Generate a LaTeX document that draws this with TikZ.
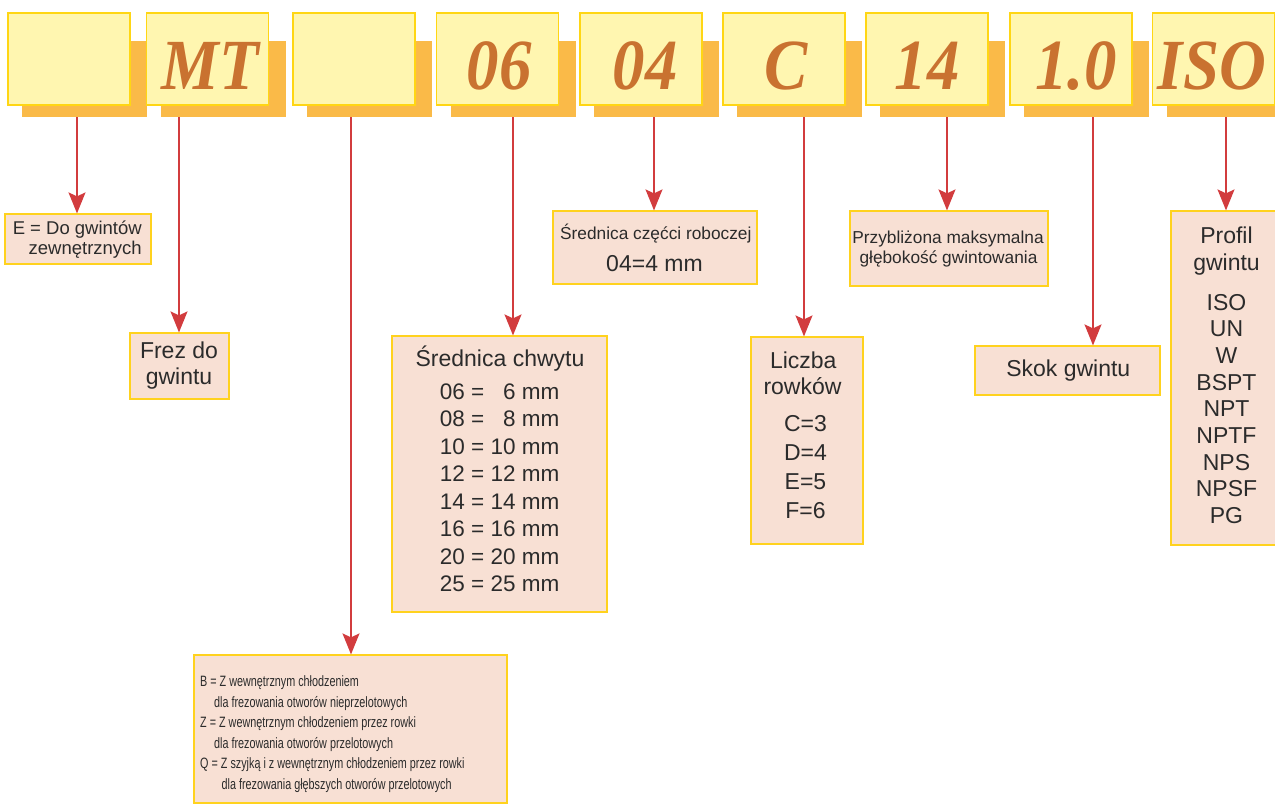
\documentclass[tikz,border=0pt]{standalone}
\usepackage{fontspec}
\setmainfont{Liberation Sans}
\newfontfamily\codefont[FakeStretch=0.9]{Liberation Serif}
\newfontfamily\narrowfont[FakeStretch=0.72]{Liberation Sans}
\usetikzlibrary{arrows.meta}
\newcommand\setfs[1]{\fontsize{#1}{#1}\selectfont}

\definecolor{topfill}{RGB}{255,246,176}
\definecolor{topedge}{RGB}{255,214,20}
\definecolor{shadowc}{RGB}{250,186,72}
\definecolor{codec}{RGB}{201,114,48}
\definecolor{boxfill}{RGB}{248,224,212}
\definecolor{boxedge}{RGB}{255,210,30}
\definecolor{arrowc}{RGB}{210,60,62}
\definecolor{textc}{RGB}{43,43,43}

\tikzset{
  topbox/.style={draw=topedge, fill=topfill, line width=1.2pt,
    minimum width=122pt, minimum height=92pt, inner sep=0pt},
  shadowbox/.style={fill=shadowc, minimum width=125pt, minimum height=76pt, inner sep=0pt},
  code/.style={text=codec, font=\codefont\bfseries\itshape\setfs{72}, anchor=base, inner sep=0pt},
  infobox/.style={draw=boxedge, fill=boxfill, line width=1.2pt, inner sep=0pt},
  arr/.style={draw=arrowc, line width=1.5pt, -{Stealth[length=21pt,width=17pt,inset=4pt]}},
  txt/.style={text=textc, inner sep=0pt, anchor=base},
  big/.style={txt, font=\setfs{23}},
  small/.style={txt, font=\setfs{17.3}},
  narrow/.style={txt, anchor=base west, font=\narrowfont\setfs{15}},
}

\begin{document}
\begin{tikzpicture}[x=1pt,y=-1pt]
\useasboundingbox (0,0) rectangle (1275,804);

% code boxes with their shadows
\foreach \i/\l in {1/8,2/146.7,3/293,4/436.7,5/580,6/723,7/866,8/1010,9/1152.7}{
  \node[shadowbox] (s\i) at (\l+76.5,79) {};
  \node[topbox] (b\i) at (\l+61,59) {};
}
\node[code] (c2) at (210,89) {MT};
\node[code] (c4) at (499,89) {06};
\node[code] (c5) at (645,89) {04};
\node[code] (c6) at (786,89) {C};
\node[code] (c7) at (927,89) {14};
\node[code] (c8) at (1076,89) {1.0};
\node[code] (c9) at (1212,89) {ISO};

% explanation boxes
\node[infobox, minimum width=146pt, minimum height=50pt] (ebox) at (78,239) {};
\node[infobox, minimum width=99pt, minimum height=66pt] (frez) at (179.5,366) {};
\node[infobox, minimum width=313pt, minimum height=148pt] (bzq) at (350.5,729) {};
\node[infobox, minimum width=215pt, minimum height=276pt] (chwyt) at (499.5,474) {};
\node[infobox, minimum width=204pt, minimum height=73pt] (robocz) at (655,247.5) {};
\node[infobox, minimum width=112pt, minimum height=207pt] (liczba) at (807,440.5) {};
\node[infobox, minimum width=198pt, minimum height=75pt] (glebok) at (949,248.5) {};
\node[infobox, minimum width=185pt, minimum height=49pt] (skok) at (1067.5,370.5) {};
\node[infobox, minimum width=111pt, minimum height=334pt] (profil) at (1226.5,378) {};

% connectors
\foreach \i/\x/\t in {1/77/ebox,2/179/frez,3/351/bzq,4/513/chwyt,5/654/robocz,
                      6/804/liczba,7/947/glebok,8/1093/skok,9/1226/profil}{
  \coordinate (a\i) at (\x,0);
  \draw[arr] (s\i.south -| a\i) -- (a\i |- \t.north);
}

% texts
\node[txt, anchor=base east, font=\setfs{18.5}] (e1) at (142,234) {E = Do gwintów};
\node[txt, anchor=base east, font=\setfs{18.5}] (e2) at (142,254) {zewnętrznych};

\node[big] (f1) at (179,358.3) {Frez do};
\node[big] (f2) at (179,384) {gwintu};

\node[narrow] (q1) at (200,686.5) {B = Z wewnętrznym chłodzeniem};
\node[narrow] (q2) at (214,707.1) {dla frezowania otworów nieprzelotowych};
\node[narrow] (q3) at (200,727.7) {Z = Z wewnętrznym chłodzeniem przez rowki};
\node[narrow] (q4) at (214,748.3) {dla frezowania otworów przelotowych};
\node[narrow] (q5) at (200,768.9) {Q = Z szyjką i z wewnętrznym chłodzeniem przez rowki};
\node[narrow] (q6) at (221.5,789.5) {dla frezowania głębszych otworów przelotowych};

\node[big] (h0) at (500,366.7) {Średnica chwytu};
\foreach \t [count=\k from 0] in {06 = \phantom{0}6 mm,08 = \phantom{0}8 mm,10 = 10 mm,12 = 12 mm,
    14 = 14 mm,16 = 16 mm,20 = 20 mm,25 = 25 mm}{
  \node[txt, font=\setfs{22.5}] (h\k x) at (499.7,399.3+27.5*\k) {\t};
}

\node[small] (r1) at (655.8,239.3) {Średnica częćci roboczej};
\node[big] (r2) at (654.5,271.7) {04=4 mm};

\node[big] (l1) at (803.3,368) {Liczba};
\node[big] (l2) at (802.5,394) {rowków};
\foreach \t [count=\k from 0] in {C=3,D=4,E=5,F=6}{
  \node[big] (l\k x) at (805.5,431.7+28.8*\k) {\t};
}

\node[small] (g1) at (948,243.3) {Przybliżona maksymalna};
\node[small] (g2) at (948.5,263.3) {głębokość gwintowania};

\node[big] (k1) at (1068.3,376.7) {Skok gwintu};

\node[big] (p1) at (1226.5,243) {Profil};
\node[big] (p2) at (1226.5,270) {gwintu};
\foreach \t [count=\k from 0] in {ISO,UN,W,BSPT,NPT,NPTF,NPS,NPSF,PG}{
  \node[big] (p\k x) at (1226.5,310+26.67*\k) {\t};
}
\end{tikzpicture}
\end{document}
